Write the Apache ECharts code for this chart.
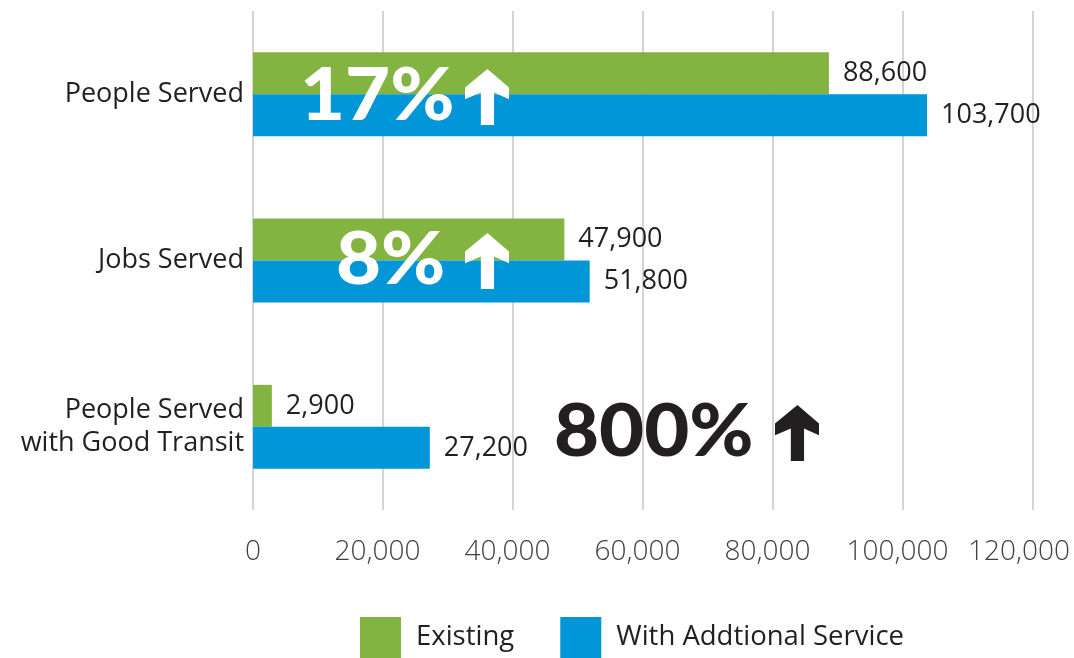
<!DOCTYPE html>
<html>
<head>
<meta charset="utf-8">
<script src="https://cdn.jsdelivr.net/npm/echarts@6/dist/echarts.min.js"></script>
<style>
  html, body { margin: 0; padding: 0; background: #ffffff; }
  #chart { width: 1074px; height: 658px; }
</style>
</head>
<body>
<div id="chart"></div>
<script>
// Service coverage: existing vs. with additional service
const categories = ['People Served', 'Jobs Served', 'People Served\nwith Good Transit'];
const existing = [88600, 47900, 2900];
const withService = [103700, 51800, 27200];
const seriesNames = ['Existing', 'With Addtional Service'];
const changeLabels = ['17%', '8%', '800%'];

const X_MAX = 120000;
const GREEN = '#83b341';
const BLUE = '#0096d8';
const INK = '#231f20';

const chart = echarts.init(document.getElementById('chart'), null, { renderer: 'canvas' });

const fmt = v => v.toLocaleString('en-US');

const valueLabel = {
  show: true,
  position: 'right',
  distance: 14,
  fontFamily: 'Open Sans',
  fontSize: 27,
  color: INK,
  formatter: p => fmt(p.value)
};

// Heavy up-arrow glyph drawn as a polygon (x, y = top-left, w x h box)
function arrowPoints(x, y, w, h) {
  const pts = [
    [0.51, 0], [1, 0.33], [1, 0.54], [0.66, 0.42], [0.66, 1],
    [0.36, 1], [0.36, 0.42], [0, 0.54], [0, 0.33]
  ];
  return pts.map(p => [x + p[0] * w, y + p[1] * h]);
}

function callout(text, color, textX, midY, arrowX) {
  return [
    {
      type: 'text',
      x: textX,
      y: midY,
      scaleX: 1.08,
      style: {
        text: text,
        fill: color,
        font: '900 72px Lato',
        verticalAlign: 'middle',
        align: 'left'
      },
      z: 100
    },
    {
      type: 'polygon',
      shape: { points: arrowPoints(arrowX, midY - 28, 44, 56) },
      style: { fill: color },
      z: 100
    }
  ];
}

const tickStyle = { fontSize: 28, fontWeight: 300, color: '#404040' };

const option = {
  animation: false,
  backgroundColor: '#ffffff',
  textStyle: { fontFamily: 'Open Sans' },
  grid: {
    left: 253, right: 41, top: 11, bottom: 148,
    containLabel: false,
    outerBoundsMode: 'none'
  },
  xAxis: {
    type: 'value',
    min: 0,
    max: X_MAX,
    interval: 20000,
    axisLine: { show: false },
    axisTick: { show: false },
    axisLabel: {
      margin: 28,
      ...tickStyle,
      // tick labels sit a little left of their gridline; the last one
      // is pulled further in so it stays on the canvas
      formatter: v => {
        if (v === 0) return fmt(v);
        return (v === X_MAX ? '{last|' : '{mid|') + fmt(v) + '}';
      },
      rich: {
        mid: { ...tickStyle, padding: [0, 11, 0, 0] },
        last: { ...tickStyle, padding: [0, 28, 0, 0] }
      }
    },
    splitLine: { show: true, lineStyle: { color: '#c6c6ca', width: 1.5 } }
  },
  yAxis: {
    type: 'category',
    inverse: true,
    data: categories,
    axisLine: { show: false },
    axisTick: { show: false },
    axisLabel: {
      margin: 9,
      fontSize: 27,
      color: INK,
      lineHeight: 33,
      align: 'right'
    }
  },
  legend: {
    left: 360,
    top: 617,
    padding: 0,
    itemWidth: 41,
    itemHeight: 41,
    itemGap: 46,
    icon: 'rect',
    textStyle: { fontSize: 27.5, color: INK, padding: [0, 0, 0, 10] },
    data: seriesNames
  },
  series: [
    {
      name: seriesNames[0],
      type: 'bar',
      data: existing,
      barGap: '0%',
      barCategoryGap: '49.5%',
      itemStyle: { color: GREEN },
      label: valueLabel
    },
    {
      name: seriesNames[1],
      type: 'bar',
      data: withService,
      barGap: '0%',
      barCategoryGap: '49.5%',
      itemStyle: { color: BLUE },
      label: valueLabel
    }
  ],
  graphic: [
    ...callout(changeLabels[0], '#ffffff', 300, 97, 465),
    ...callout(changeLabels[1], '#ffffff', 336, 261, 465),
    ...callout(changeLabels[2], INK, 554, 433, 775)
  ]
};

chart.setOption(option);
</script>
</body>
</html>
